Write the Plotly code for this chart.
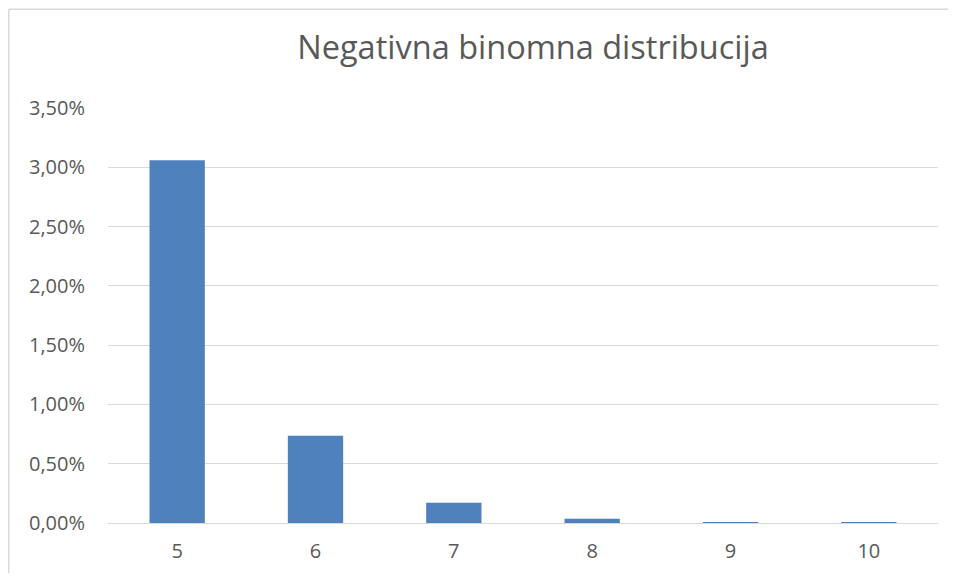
import plotly.graph_objects as go

categories = ["5", "6", "7", "8", "9", "10"]
values = [0.0306, 0.00735, 0.0017, 0.00035, 0.00008, 0.000015]
tick_vals = [0, 0.005, 0.01, 0.015, 0.02, 0.025, 0.03, 0.035]
tick_text = ["0,00%", "0,50%", "1,00%", "1,50%", "2,00%", "2,50%", "3,00%", "3,50%"]

# page body has an 8px margin, so the figure coordinates are window coords - 8
OFF = 8
W, H = 956 - 2 * OFF, 581 - 2 * OFF
L, R, T, B = 108 - OFF, 938 - OFF, 108 - OFF, 523 - OFF

fig = go.Figure(go.Bar(x=categories, y=values, marker_color="#4f81bd",
                       marker_line_width=0, width=0.4))

def px(x):
    return (x - L) / (R - L)

def py(y):
    return (B - y) / (B - T)

FONT = "Open Sans, sans-serif"
border = dict(color="#d9d9d9", width=1.5)
fig.update_layout(
    width=W, height=H,
    margin=dict(l=L, r=W - R, t=T, b=H - B),
    paper_bgcolor="white", plot_bgcolor="white",
    font=dict(family=FONT, color="#595959", size=20),
    title=dict(text="Negativna binomna distribucija", x=(533 - OFF) / W, xanchor="center",
               y=1 - (48 - OFF) / H, yanchor="middle",
               font=dict(size=32.5, color="#595959", family=FONT)),
    xaxis=dict(showgrid=False, showline=True, linecolor="#d9d9d9", linewidth=1,
               ticks="", tickfont=dict(size=20, color="#595959"), ticklabelstandoff=10),
    yaxis=dict(range=[0, 0.035], tickvals=tick_vals, ticktext=tick_text,
               showgrid=True, gridcolor="#d9d9d9", gridwidth=1, zeroline=False,
               showline=False, ticks="", ticklen=0, tickfont=dict(size=20, color="#595959"),
               ticklabelstandoff=22),
    showlegend=False,
    shapes=[
        dict(type="line", xref="paper", yref="paper",
             x0=px(0.75), x1=px(W), y0=py(1.25), y1=py(1.25), line=border),
        dict(type="line", xref="paper", yref="paper",
             x0=px(0.75), x1=px(0.75), y0=py(1.25), y1=py(H), line=border),
    ],
)
fig.write_html("out.html")
